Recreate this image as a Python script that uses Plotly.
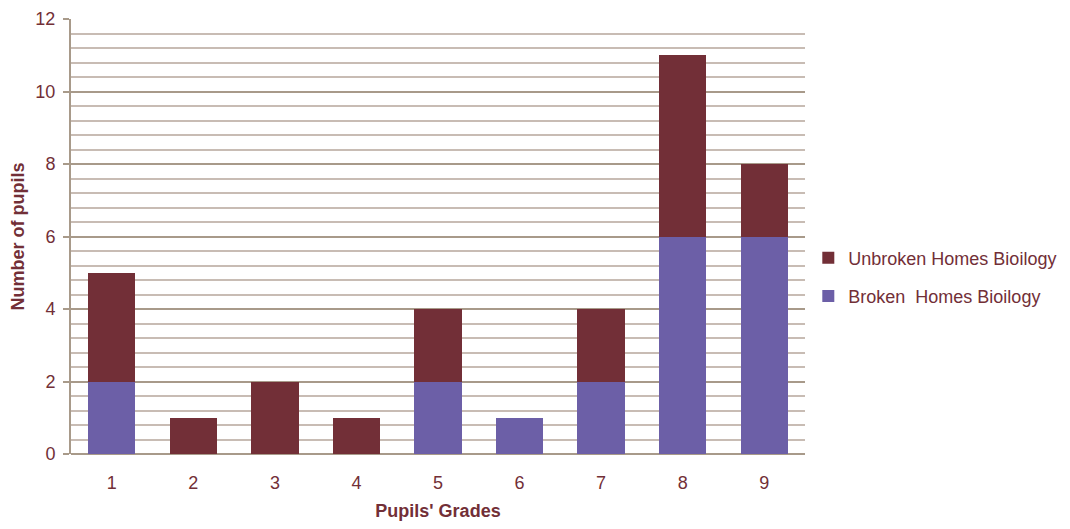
import plotly.graph_objects as go

grades = ["1", "2", "3", "4", "5", "6", "7", "8", "9"]
broken = [2, 0, 0, 0, 2, 1, 2, 6, 6]
unbroken = [3, 1, 2, 1, 2, 0, 2, 5, 2]

maroon = "#722F37"
purple = "#6C5FA7"
txt = "#722F37"

fig = go.Figure()
fig.add_trace(go.Bar(x=grades, y=broken, name="Broken  Homes Bioilogy", legendgroup="b",
                     legendrank=2, marker=dict(color=purple, line=dict(width=0))))
fig.add_trace(go.Bar(x=grades, y=unbroken, name="Unbroken Homes Bioilogy", legendgroup="u",
                     legendrank=1, marker=dict(color=maroon, line=dict(width=0))))

fig.update_layout(
    barmode="stack",
    bargap=0.42,
    width=1054, height=513,
    margin=dict(l=63, r=257, t=11, b=67, autoexpand=False),
    paper_bgcolor="white", plot_bgcolor="white",
    font=dict(family="Liberation Sans, Arial, sans-serif", size=18, color=txt),
    legend=dict(xref="container", yref="container", x=0.7593, y=0.4756,
                xanchor="left", yanchor="middle",
                traceorder="grouped", font=dict(size=18, color=txt),
                itemsizing="constant", tracegroupgap=12),
    xaxis=dict(
        title=dict(text="<b>Pupils' Grades</b>", font=dict(size=18, color=txt), standoff=20),
        showgrid=False, showline=False, ticks="", ticklabelstandoff=16,
        tickfont=dict(size=18, color=txt), zeroline=False, automargin=False,
    ),
    yaxis=dict(
        title=dict(text="<b>Number of pupils</b>", font=dict(size=18, color=txt), standoff=16),
        range=[0, 12], dtick=2, tick0=0, automargin=False,
        showgrid=True, gridcolor="#A89A8A", gridwidth=2,
        showline=True, linecolor="#A89A8A", linewidth=2,
        ticks="outside", ticklen=6, tickcolor="#A89A8A", tickwidth=2,
        ticklabelstandoff=4,
        tickfont=dict(size=18, color=txt),
        zeroline=True, zerolinecolor="#A89A8A", zerolinewidth=2,
        minor=dict(dtick=0.4, tick0=0, showgrid=True, gridcolor="#C8BCB4", gridwidth=2,
                   ticks=""),
    ),
)

fig.write_html("out.html")
